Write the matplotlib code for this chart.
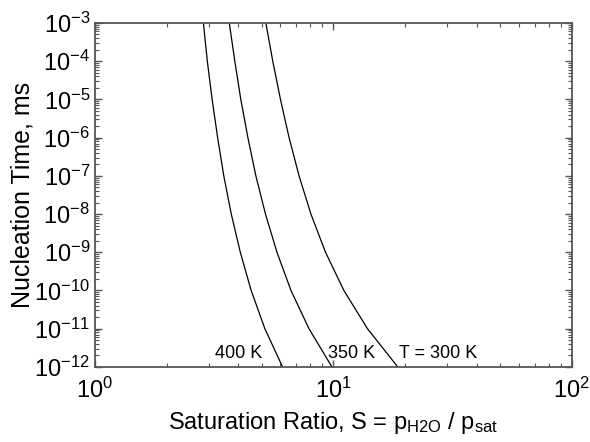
import matplotlib
matplotlib.use("Agg")
import matplotlib.pyplot as plt

plt.rcParams['font.family'] = ['Liberation Sans', 'DejaVu Sans']
plt.rcParams['mathtext.fontset'] = 'custom'
plt.rcParams['mathtext.rm'] = 'Liberation Sans'
plt.rcParams['mathtext.it'] = 'Liberation Sans'
plt.rcParams['mathtext.bf'] = 'Liberation Sans:bold'
plt.rcParams['axes.unicode_minus'] = False

# nucleation time (ms) at each decade
t_ms = [1e-3, 1e-4, 1e-5, 1e-6, 1e-7, 1e-8, 1e-9, 1e-10, 1e-11, 1e-12]

# saturation ratio
S_400 = [2.85, 2.96, 3.10, 3.27, 3.47, 3.73, 4.07, 4.52, 5.16, 6.12]
S_350 = [3.66, 3.86, 4.09, 4.38, 4.73, 5.19, 5.80, 6.64, 7.90, 9.86]
S_300 = [5.21, 5.57, 6.00, 6.52, 7.18, 8.05, 9.27, 11.07, 13.90, 18.62]

labels = ['400 K', '350 K', 'T = 300 K']
label_S = [3.18, 9.48, 18.8]
label_t = 1.7e-12

fig = plt.figure(figsize=(5.9, 4.42), dpi=100)
ax = fig.add_axes([0.161, 0.170, 0.808, 0.778])

for S in [S_400, S_350, S_300]:
    ax.plot(S, t_ms, color='black', lw=0.9)

for lab, s in zip(labels, label_S):
    ax.text(s, label_t, lab, fontsize=13, ha='left', va='baseline')

ax.set_xscale('log')
ax.set_yscale('log')
ax.set_xlim(1, 100)
ax.set_ylim(1e-12, 1e-3)

ax.yaxis.set_major_locator(matplotlib.ticker.LogLocator(base=10, numticks=20))
ax.yaxis.set_minor_locator(matplotlib.ticker.LogLocator(base=10, subs=range(2, 10), numticks=20))
ax.yaxis.set_minor_formatter(matplotlib.ticker.NullFormatter())

ax.tick_params(which='both', direction='in', top=True, right=True, color='#555555')
ax.tick_params(which='major', length=5, width=1, labelsize=17)
ax.tick_params(axis='x', which='major', pad=8)
ax.tick_params(which='minor', length=3, width=0.8)
for sp in ax.spines.values():
    sp.set_color('#555555')
    sp.set_linewidth(1.3)

ax.set_xlabel('Saturation Ratio, S = p$_{\\mathrm{H2O}}$ / p$_{\\mathrm{sat}}$', fontsize=17, labelpad=5)
ax.set_ylabel('Nucleation Time, ms', fontsize=18, labelpad=0)

fig.savefig('out.png', dpi=100)
